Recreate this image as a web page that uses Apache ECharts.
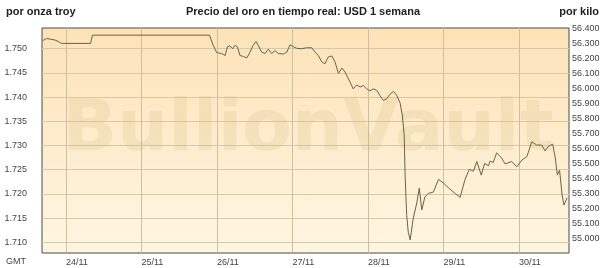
<!DOCTYPE html>
<html>
<head>
<meta charset="utf-8">
<title>Precio del oro</title>
<script src="https://cdn.jsdelivr.net/npm/echarts@6/dist/echarts.min.js"></script>
<style>
html,body{margin:0;padding:0;background:#fff;}
#chart{width:605px;height:268px;}
</style>
</head>
<body>
<div id="chart"></div>
<script>
// horas desde el 23/11 00:00 GMT
var horas = [
  16.7, 17.8, 18.9, 20.5, 21.5, 22.6, 31.8, 32.4, 69.6, 70.8,
  71.9, 73.5, 74.6, 75.3, 76.1, 77.0, 77.7, 78.5, 79.3, 80.4,
  81.5, 82.5, 83.5, 84.4, 85.1, 86.2, 87.3, 88.3, 89.4, 90.4,
  91.5, 93.1, 94.2, 95.2, 96.3, 97.3, 98.9, 100.5, 102.1, 103.2,
  104.2, 105.3, 106.3, 107.4, 108.5, 109.5, 110.6, 111.7, 112.7, 114.3,
  115.3, 116.4, 117.5, 118.5, 119.6, 120.6, 121.7, 122.8, 123.8, 124.9,
  126.0, 127.0, 128.1, 129.1, 130.2, 130.9, 131.5, 131.8, 132.3, 132.8,
  133.4, 134.4, 135.5, 136.3, 137.1, 138.1, 139.2, 140.8, 142.4, 143.9,
  145.5, 147.7, 149.3, 150.8, 152.2, 153.5, 154.6, 156.0, 157.1, 158.3,
  158.8, 159.8, 160.9, 162.5, 163.6, 165.7, 167.3, 168.9, 170.5, 172.1,
  173.6, 175.2, 176.3, 177.3, 178.7, 179.5, 180.2, 180.9, 181.7, 182.3,
  183.3
];
// USD por onza troy
var precios = [
  1751.7, 1752.1, 1752.0, 1751.8, 1751.5, 1751.1, 1751.1, 1752.8, 1752.8, 1750.7,
  1749.2, 1749.0, 1748.6, 1750.4, 1750.6, 1750.0, 1750.7, 1750.4, 1748.6, 1748.4,
  1748.1, 1749.3, 1750.7, 1751.5, 1750.7, 1749.3, 1749.0, 1749.9, 1749.0, 1749.6,
  1749.0, 1748.9, 1749.3, 1750.8, 1750.4, 1750.1, 1750.0, 1750.2, 1750.2, 1749.3,
  1748.6, 1747.3, 1746.9, 1748.3, 1748.5, 1747.3, 1744.9, 1746.0, 1745.2, 1743.1,
  1741.7, 1742.5, 1742.1, 1742.4, 1741.7, 1741.3, 1741.7, 1741.4, 1740.3, 1739.3,
  1739.7, 1740.6, 1741.2, 1740.4, 1738.8, 1736.3, 1732.2, 1723.9, 1715.6, 1712.1,
  1710.5, 1715.0, 1718.1, 1721.2, 1716.7, 1719.4, 1720.1, 1720.4, 1723.0, 1722.3,
  1721.3, 1720.1, 1719.3, 1722.9, 1725.1, 1724.7, 1726.7, 1723.9, 1726.3, 1725.8,
  1726.8, 1726.5, 1728.5, 1727.4, 1726.2, 1726.7, 1725.6, 1727.0, 1727.7, 1730.8,
  1730.1, 1730.1, 1728.9, 1729.8, 1730.3, 1727.6, 1723.9, 1724.9, 1719.8, 1717.7,
  1719.2
];
var diasTicks = [24, 48, 72, 96, 120, 144, 168];
var onzaTicks = [1710, 1715, 1720, 1725, 1730, 1735, 1740, 1745, 1750];
var kiloTicks = [55000, 55100, 55200, 55300, 55400, 55500, 55600, 55700,
  55800, 55900, 56000, 56100, 56200, 56300, 56400];

var ONZAS_KILO = 32.1507;
var minOnza = 1707.8, maxOnza = 1754.28;

function miles(v){
  return (v / 1000).toFixed(3);
}
function dia(v){
  return (23 + Math.round(v / 24)) + '/11';
}

var datos = [];
for (var i = 0; i < horas.length; i++) {
  datos.push([horas[i], precios[i]]);
}

var chart = echarts.init(document.getElementById('chart'));
var fuente = '"Liberation Sans", Arial, sans-serif';
var option = {
  backgroundColor: '#ffffff',
  animation: false,
  grid: {
    left: 42, right: 36, top: 28, bottom: 15,
    show: true,
    borderColor: '#4a4a4a',
    borderWidth: 1,
    backgroundColor: {
      type: 'linear', x: 0, y: 0, x2: 0, y2: 1,
      colorStops: [
        {offset: 0, color: '#fde2b7'},
        {offset: 1, color: '#fef6e2'}
      ]
    }
  },
  graphic: [
    // marca de agua
    {type: 'text', x: 308, y: 131, z: 1, silent: true,
      style: {text: 'BullionVault', font: 'bold 72px "DejaVu Sans", sans-serif',
        fill: 'rgba(195,178,105,0.17)', align: 'center', verticalAlign: 'middle'}},
    {type: 'text', x: 303, y: 12,
      style: {text: 'Precio del oro en tiempo real: USD 1 semana',
        font: 'bold 11px "Liberation Sans Narrow", ' + fuente,
        fill: '#222', align: 'center', verticalAlign: 'middle'}},
    {type: 'text', x: 6, y: 12,
      style: {text: 'por onza troy', font: 'bold 11px "Liberation Sans Narrow", ' + fuente,
        fill: '#222', align: 'left', verticalAlign: 'middle'}},
    {type: 'text', x: 599, y: 12,
      style: {text: 'por kilo', font: 'bold 11px "Liberation Sans Narrow", ' + fuente,
        fill: '#222', align: 'right', verticalAlign: 'middle'}},
    {type: 'text', x: 6, y: 262,
      style: {text: 'GMT', font: '9px ' + fuente,
        fill: '#444', align: 'left', verticalAlign: 'middle'}}
  ],
  xAxis: {
    type: 'value',
    min: 16.37,
    max: 183.9,
    axisLine: {show: false},
    axisTick: {show: false, customValues: diasTicks},
    axisLabel: {
      customValues: diasTicks,
      formatter: dia,
      align: 'left',
      margin: 5,
      fontSize: 9,
      fontFamily: fuente,
      color: '#444'
    },
    splitLine: {show: true, lineStyle: {color: '#cdbf9f', width: 1}}
  },
  yAxis: [
    {
      type: 'value',
      position: 'left',
      min: minOnza,
      max: maxOnza,
      axisLine: {show: false},
      axisTick: {show: false, customValues: onzaTicks},
      axisLabel: {
        customValues: onzaTicks,
        formatter: miles,
        margin: 15,
        fontSize: 9,
        fontFamily: fuente,
        color: '#444'
      },
      splitLine: {show: true, lineStyle: {color: '#d6c9ab', width: 1}}
    },
    {
      type: 'value',
      position: 'right',
      min: minOnza * ONZAS_KILO,
      max: maxOnza * ONZAS_KILO,
      axisLine: {show: false},
      axisTick: {show: false, customValues: kiloTicks},
      axisLabel: {
        customValues: kiloTicks,
        formatter: miles,
        margin: 3,
        fontSize: 9,
        fontFamily: fuente,
        color: '#444'
      },
      splitLine: {show: false}
    }
  ],
  series: [
    {
      type: 'line',
      yAxisIndex: 0,
      data: datos,
      showSymbol: false,
      symbol: 'none',
      lineStyle: {color: '#66654a', width: 1},
      z: 3
    }
  ]
};
chart.setOption(option);
</script>
</body>
</html>
